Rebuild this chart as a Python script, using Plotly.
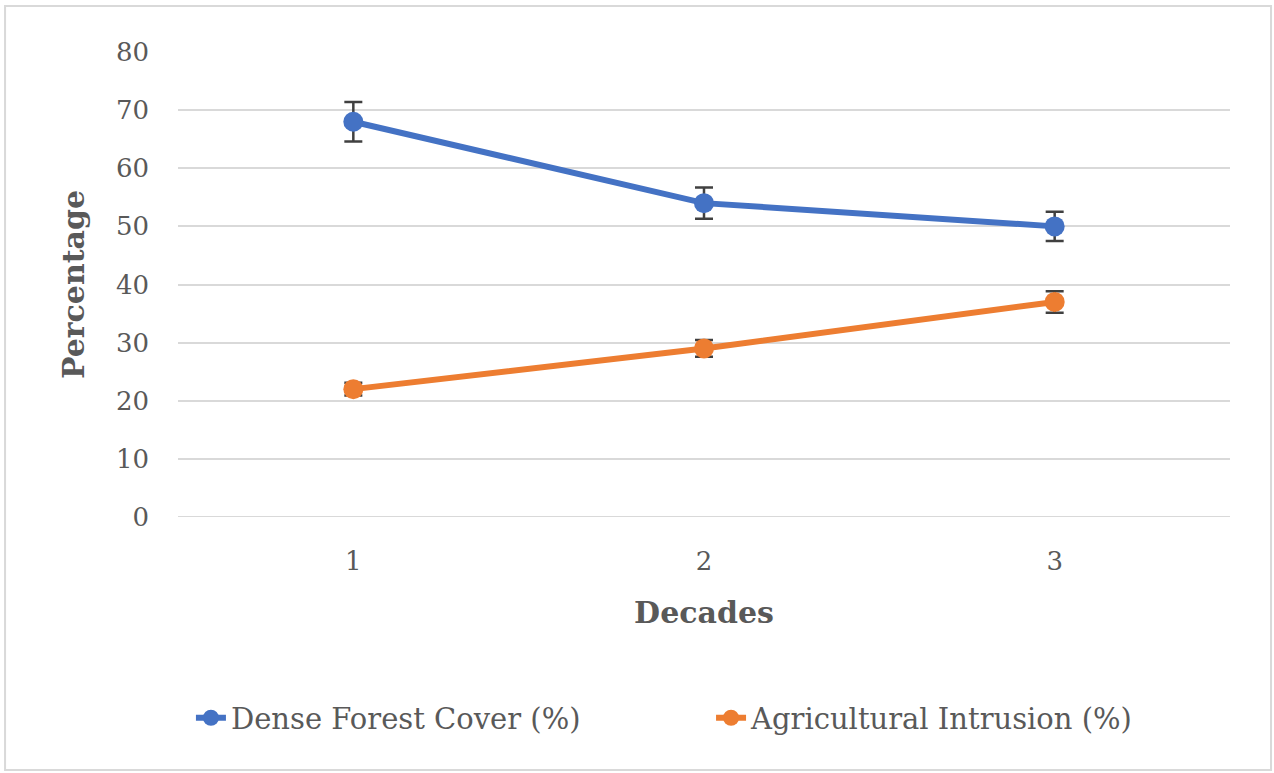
import plotly.graph_objects as go

decades = ["1", "2", "3"]
dense_forest = [68, 54, 50]
dense_err = [3.4, 2.7, 2.5]
agri = [22, 29, 37]
agri_err = [1.1, 1.45, 1.85]
y_ticks = [0, 10, 20, 30, 40, 50, 60, 70, 80]

FONT = "DejaVu Serif"
GREY = "#595959"

fig = go.Figure()
fig.add_trace(go.Scatter(
    x=decades, y=dense_forest, name="Dense Forest Cover (%)",
    mode="lines+markers", legend="legend",
    line=dict(color="#4472C4", width=6),
    marker=dict(color="#4472C4", size=20),
    error_y=dict(type="data", array=dense_err, visible=True, color="#404040", thickness=2.5, width=9),
))
fig.add_trace(go.Scatter(
    x=decades, y=agri, name="Agricultural Intrusion (%)",
    mode="lines+markers", legend="legend2",
    line=dict(color="#ED7D31", width=6),
    marker=dict(color="#ED7D31", size=20),
    error_y=dict(type="data", array=agri_err, visible=True, color="#404040", thickness=2.5, width=9),
))

legend_common = dict(orientation="h", xanchor="left", y=-0.432, yanchor="middle",
                     font=dict(family=FONT, size=29, color=GREY), bgcolor="rgba(0,0,0,0)")

fig.update_layout(
    width=1274, height=773,
    margin=dict(l=178, r=44, t=52, b=256),
    paper_bgcolor="white", plot_bgcolor="white",
    font=dict(family=FONT, color=GREY, size=26),
    showlegend=True,
    legend=dict(x=0.0123, **legend_common),
    legend2=dict(x=0.5067, **legend_common),
    xaxis=dict(type="category", range=[-0.5, 2.5], showgrid=False, zeroline=False,
               showline=False, ticks="", tickfont=dict(size=26, color=GREY),
               ticklabelstandoff=26,
               title=dict(text="<b>Decades</b>", font=dict(size=30, color=GREY), standoff=26)),
    yaxis=dict(range=[0, 80], tickvals=y_ticks, showgrid=True, gridcolor="#D9D9D9", gridwidth=2,
               zeroline=False, showline=False, ticks="", tickfont=dict(size=26, color=GREY),
               ticklabelstandoff=28,
               title=dict(text="<b>Percentage</b>", font=dict(size=30, color=GREY), standoff=22)),
    shapes=[dict(type="rect", xref="paper", yref="paper",
                 x0=-0.1644, x1=1.039, y0=-0.544, y1=1.099,
                 line=dict(color="#D9D9D9", width=2), fillcolor="rgba(0,0,0,0)", layer="below")],
)
fig.add_shape(type="line", xref="paper", yref="y", x0=0, x1=1, y0=0, y1=0,
              line=dict(color="#D9D9D9", width=2), layer="below")

fig.write_html("out.html", config={"displayModeBar": False},
               post_script="document.body.style.margin='0';")
